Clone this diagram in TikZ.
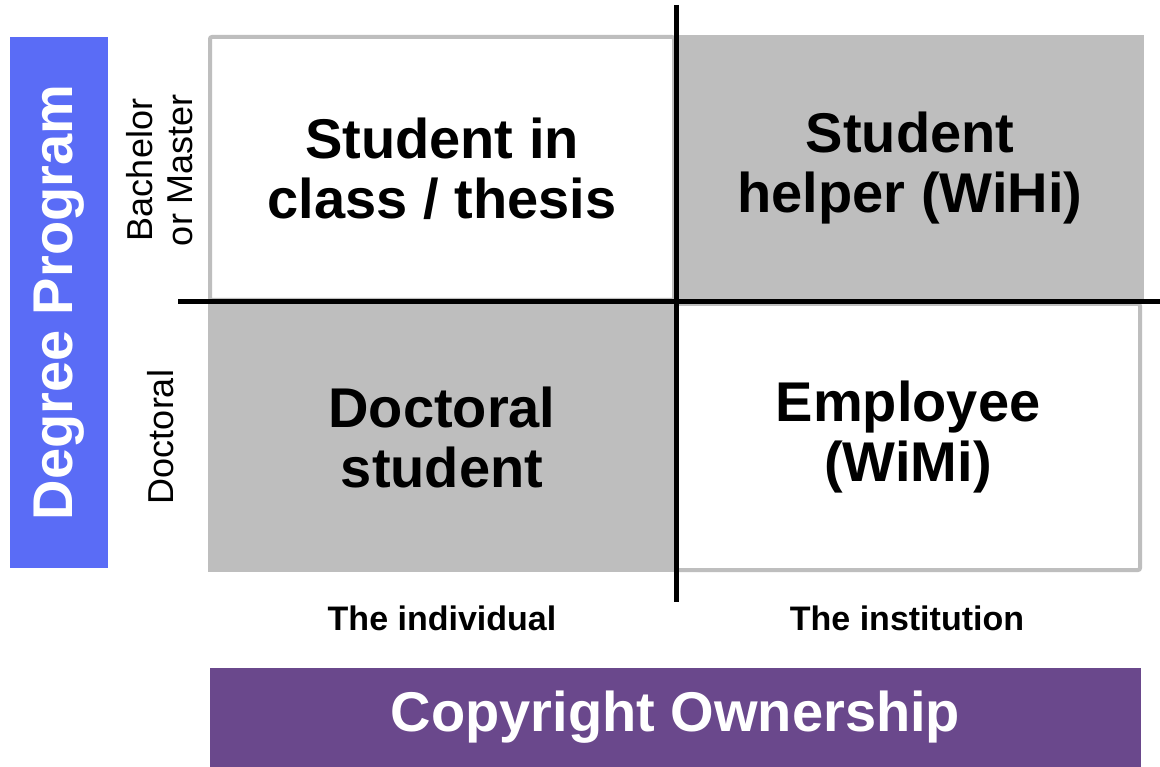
\documentclass[tikz,border=0pt]{standalone}
\usepackage{fontspec}
\setmainfont{Liberation Sans}
\definecolor{cellgray}{RGB}{190,190,190}
\definecolor{degblue}{RGB}{90,108,246}
\definecolor{ownpurple}{RGB}{106,72,140}
\tikzset{
  celltext/.style={align=center, font=\fontsize{56}{60}\selectfont\bfseries, inner sep=0pt},
  whitecell/.style={celltext, fill=white, draw=cellgray, line width=4pt, rounded corners=2pt},
  graycell/.style={celltext, fill=cellgray},
  sidelabel/.style={align=center, rotate=90, font=\fontsize{36}{40}\selectfont, inner sep=0pt},
  footlabel/.style={font=\fontsize{34}{38}\selectfont\bfseries, inner sep=0pt},
  banner/.style={font=\fontsize{56}{60}\selectfont\bfseries, text=white, inner sep=0pt},
  sepline/.style={line width=5pt, black}
}
\begin{document}
\begin{tikzpicture}[x=1pt,y=-1pt]
\useasboundingbox[fill=white] (0,0) rectangle (1160,767);
% cells
\node[graycell, minimum width=468pt, minimum height=267pt] (tr) at (910,168.5) {Student\\helper (WiHi)};
\node[graycell, minimum width=468pt, minimum height=270pt] (bl) at (442,437) {Doctoral\\student};
\node[whitecell, minimum width=464pt, minimum height=263pt] (tl) at (442,168.5) {Student in\\class / thesis};
\node[whitecell, minimum width=464pt, minimum height=266pt] (br) at (908,437) {Employee\\(WiMi)};
% separating lines
\coordinate (vtop) at (676,5);
\coordinate (vbot) at (676,602);
\coordinate (hleft) at (178,302);
\coordinate (hright) at (1160,302);
\draw[sepline] (vtop) -- (vbot);
\draw[sepline] (hleft) -- (hright);
% degree program banner
\node[banner, rotate=90, fill=degblue, minimum width=531pt, minimum height=98pt] (deg) at (59,302.5) {Degree Program};
\node[sidelabel] (bm) at (160,170) {Bachelor\\or Master};
\node[sidelabel] (doc) at (161,437) {Doctoral};
% bottom labels
\node[footlabel] (ind) at (442,618) {The individual};
\node[footlabel] (inst) at (907,618) {The institution};
% ownership banner
\node[banner, fill=ownpurple, minimum width=931pt, minimum height=99pt] (own) at (675.5,717.5) {Copyright Ownership};
\end{tikzpicture}
\end{document}
